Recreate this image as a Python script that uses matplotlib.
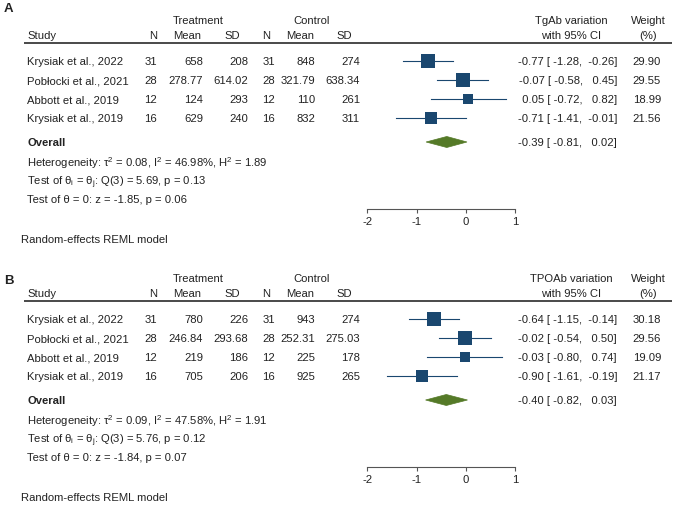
import matplotlib
matplotlib.use('Agg')
from matplotlib import pyplot as plt
from matplotlib import transforms
from matplotlib.patches import Polygon

plt.rcParams['font.family'] = ['Liberation Sans', 'DejaVu Sans']
plt.rcParams['axes.unicode_minus'] = False

W, H = 674, 505

studies = ['Krysiak et al., 2022', 'Pobłocki et al., 2021', 'Abbott et al., 2019', 'Krysiak et al., 2019']
n_treat = [31, 28, 12, 16]
n_ctrl = [31, 28, 12, 16]

# panel A: TgAb
tg_mean_t = [658, 278.77, 124, 629]
tg_sd_t = [208, 614.02, 293, 240]
tg_mean_c = [848, 321.79, 110, 832]
tg_sd_c = [274, 638.34, 261, 311]
tg_es = [-0.77, -0.07, 0.05, -0.71]
tg_lo = [-1.28, -0.58, -0.72, -1.41]
tg_hi = [-0.26, 0.45, 0.82, -0.01]
tg_weight = [29.90, 29.55, 18.99, 21.56]
tg_overall = (-0.39, -0.81, 0.02)
tg_stats = (0.08, 46.98, 1.89, 5.69, 0.13, -1.85, 0.06)

# panel B: TPOAb
tpo_mean_t = [780, 246.84, 219, 705]
tpo_sd_t = [226, 293.68, 186, 206]
tpo_mean_c = [943, 252.31, 225, 925]
tpo_sd_c = [274, 275.03, 178, 265]
tpo_es = [-0.64, -0.02, -0.03, -0.90]
tpo_lo = [-1.15, -0.54, -0.80, -1.61]
tpo_hi = [-0.14, 0.50, 0.74, -0.19]
tpo_weight = [30.18, 29.56, 19.09, 21.17]
tpo_overall = (-0.40, -0.82, 0.03)
tpo_stats = (0.09, 47.58, 1.91, 5.76, 0.12, -1.84, 0.07)

ticks = [-2, -1, 0, 1]

NAVY = '#1a476f'
GREEN = '#557a28'
TXT = '#222222'
FS = 8.1


def forest(fig, top, label, label_y, outcome, mean_t, sd_t, mean_c, sd_c,
           es, lo, hi, weight, overall, stats):
    ph = 248
    ax = fig.add_axes([0, 1 - (top + ph) / H, 1, ph / H])
    # x in effect units: 0 -> 466 px, 1 unit = 49.3 px
    ax.set_xlim(-466 / 49.3, (W - 466) / 49.3)
    ax.set_ylim(ph, 0)
    ax.patch.set_alpha(0)
    tr = transforms.blended_transform_factory(fig.transFigure, ax.transData)

    def t(x, y, s, ha='left', **kw):
        ax.text(x / W, y, s, transform=tr, ha=ha, va='center_baseline',
                fontsize=kw.pop('fontsize', FS), color=TXT, **kw)

    t(4, label_y, label, fontsize=9.5, fontweight='bold')
    t(198, 20, 'Treatment', ha='center')
    t(312, 20, 'Control', ha='center')
    t(571, 20, outcome + ' variation', ha='center')
    t(571, 35, 'with 95% CI', ha='center')
    t(648, 20, 'Weight', ha='center')
    t(648, 35, '(%)', ha='center')
    t(27, 35, 'Study')
    for x, s in zip([153, 187, 232, 266, 300, 344], ['N', 'Mean', 'SD', 'N', 'Mean', 'SD']):
        t(x, 35, s, ha='center')
    ax.plot([24 / W, 672 / W], [43, 43], transform=tr, color='#3a3a3a', lw=1.3,
            solid_capstyle='butt')

    rows = [61 + 19.1 * i for i in range(len(studies))]
    for i, y in enumerate(rows):
        t(27, y, studies[i])
        t(157, y, f'{n_treat[i]}', ha='right')
        t(203, y, f'{mean_t[i]:g}', ha='right')
        t(248, y, f'{sd_t[i]:g}', ha='right')
        t(275, y, f'{n_ctrl[i]}', ha='right')
        t(315, y, f'{mean_c[i]:g}', ha='right')
        t(360, y, f'{sd_c[i]:g}', ha='right')
        t(617, y, f'{es[i]:5.2f} [{lo[i]:6.2f}, {hi[i]:6.2f}]', ha='right')
        t(661, y, f'{weight[i]:.2f}', ha='right')
        ax.plot([lo[i], hi[i]], [y, y], color=NAVY, lw=0.8)
        side = 2.5 * weight[i] ** 0.5 * 0.72
        ax.plot(es[i], y, marker='s', ms=side, color=NAVY, mec=NAVY, mew=0)

    oy = 142
    o_es, o_lo, o_hi = overall
    ax.add_patch(Polygon([(o_lo, oy), (o_es, oy - 5.5), (o_hi, oy), (o_es, oy + 5.5)],
                         closed=True, facecolor=GREEN, edgecolor=GREEN, lw=0.5))
    t(27, oy, 'Overall', fontweight='bold')
    t(617, oy, f'{o_es:5.2f} [{o_lo:6.2f}, {o_hi:6.2f}]', ha='right')

    tau2, i2, h2, q, pq, z, pz = stats
    t(27, 161, r'Heterogeneity: τ$^\mathregular{2}$ = ' + f'{tau2:.2f}, '
      + r'I$^\mathregular{2}$ = ' + f'{i2:.2f}%, ' + r'H$^\mathregular{2}$ = ' + f'{h2:.2f}')
    t(27, 180, r'Test of θ$_\mathregular{i}$ = θ$_\mathregular{j}$: ' + f'Q(3) = {q:.2f}, p = {pq:.2f}')
    t(27, 199, f'Test of θ = 0: z = {z:.2f}, p = {pz:.2f}')
    t(21, 239, 'Random-effects REML model')

    for s in ['top', 'left', 'right']:
        ax.spines[s].set_visible(False)
    ax.spines['bottom'].set_position(('data', 209))
    ax.spines['bottom'].set_bounds(ticks[0], ticks[-1])
    ax.spines['bottom'].set_color('#555555')
    ax.spines['bottom'].set_linewidth(0.8)
    ax.set_yticks([])
    ax.set_xticks(ticks)
    ax.set_xticklabels([f'{v}' for v in ticks])
    ax.tick_params(axis='x', direction='out', length=3, width=0.8, color='#555555',
                   pad=3, labelsize=FS, labelcolor=TXT)
    return ax


fig = plt.figure(figsize=(W / 100, H / 100), dpi=100)
forest(fig, 0, 'A', 7, 'TgAb', tg_mean_t, tg_sd_t, tg_mean_c, tg_sd_c,
       tg_es, tg_lo, tg_hi, tg_weight, tg_overall, tg_stats)
forest(fig, 258, 'B', 22, 'TPOAb', tpo_mean_t, tpo_sd_t, tpo_mean_c, tpo_sd_c,
       tpo_es, tpo_lo, tpo_hi, tpo_weight, tpo_overall, tpo_stats)
fig.savefig('out.png', dpi=100, facecolor='white')
